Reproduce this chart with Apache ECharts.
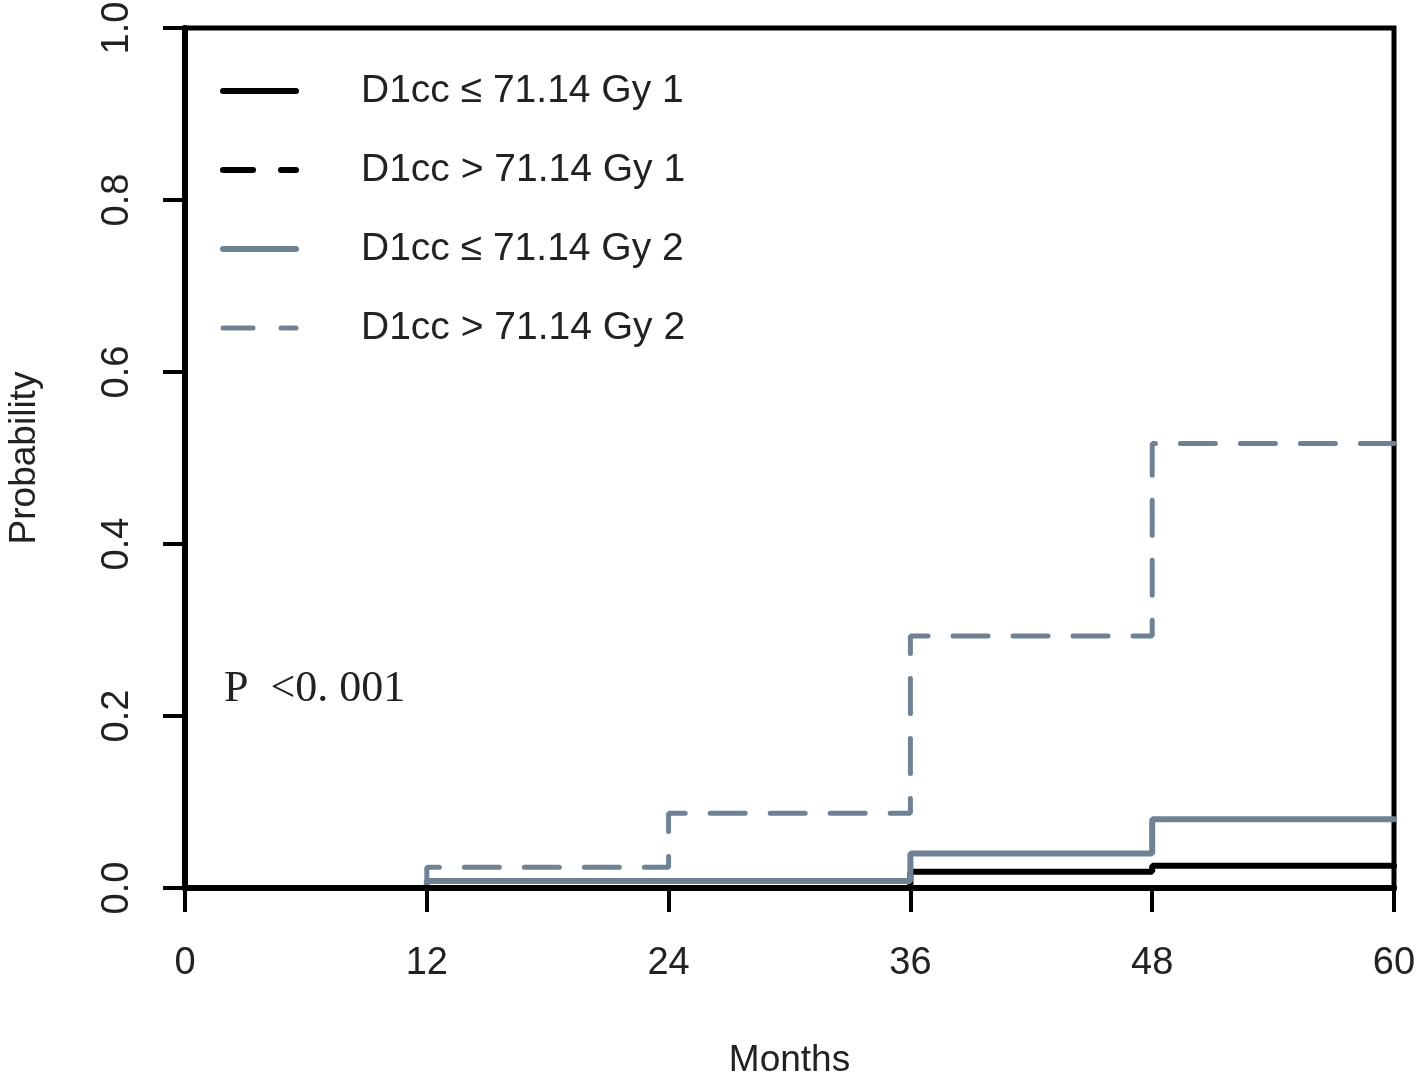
<!DOCTYPE html>
<html>
<head>
<meta charset="utf-8">
<script src="https://cdn.jsdelivr.net/npm/echarts@6/dist/echarts.min.js"></script>
<style>html,body{margin:0;padding:0;background:#fff;}#c{width:1418px;height:1076px;}</style>
</head>
<body>
<div id="c"></div>
<script>
const seriesNames = ['D1cc \u2264 71.14 Gy 1', 'D1cc > 71.14 Gy 1', 'D1cc \u2264 71.14 Gy 2', 'D1cc > 71.14 Gy 2'];
const months = [0, 12, 24, 36, 48, 60];
const lowGroup1 = [0, 0, 0, 0.019, 0.026, 0.026];
const highGroup1 = [0, 0, 0, 0, 0, 0];
const lowGroup2 = [0, 0.008, 0.008, 0.040, 0.080, 0.080];
const highGroup2 = [0, 0.024, 0.087, 0.293, 0.517, 0.517];
const yTicks = ['0.0', '0.2', '0.4', '0.6', '0.8', '1.0'];
const xTicks = ['0', '12', '24', '36', '48', '60'];
const pText = 'P \u00a0<0. 001';

const gray = '#6f8294';
const font = '"Liberation Sans", Arial, sans-serif';
function pairs(vals){ return months.map((m,i)=>[m, vals[i]]); }

const styles = [
  {color:'#000', type:'solid', width:6, legendType:'solid'},
  {color:'#000', type:[35,25], width:6, legendType:[30,28]},
  {color:gray, type:'solid', width:6, legendType:'solid'},
  {color:gray, type:[35,25], width:5, legendType:[30,28]}
];
const allVals = [lowGroup1, highGroup1, lowGroup2, highGroup2];

const chart = echarts.init(document.getElementById('c'));
chart.setOption({
  backgroundColor:'#fff',
  animation:false,
  grid:{left:185, right:24, top:28, bottom:188, show:true, borderColor:'#000', borderWidth:5, z:0, outerBoundsMode:'none', containLabel:false},
  legend:{
    orient:'vertical', left:220, top:71, padding:0,
    itemWidth:73, itemHeight:14, itemGap:39,
    data: seriesNames.map((n,i)=>({
      name:n,
      itemStyle:{opacity:0},
      lineStyle:{color:styles[i].color, type:styles[i].legendType, width:styles[i].width, cap:'round'}
    })),
    textStyle:{fontFamily:font, fontSize:39, color:'#222', lineHeight:40, padding:[0,0,0,60]}
  },
  xAxis:{
    type:'value', min:0, max:60, interval:12, z:5,
    name:'Months', nameLocation:'middle', nameGap:154,
    nameTextStyle:{fontFamily:font, fontSize:37, color:'#222'},
    axisLine:{show:true, lineStyle:{color:'#000', width:6}},
    axisTick:{show:true, length:24, lineStyle:{color:'#000', width:4}},
    axisLabel:{margin:57, fontFamily:font, fontSize:38, color:'#222',
      formatter:(v)=>xTicks[months.indexOf(v)] ?? ''},
    splitLine:{show:false}
  },
  yAxis:{
    type:'value', min:0, max:1, interval:0.2, z:5,
    name:'Probability', nameLocation:'middle', nameGap:142, nameRotate:90,
    nameTextStyle:{fontFamily:font, fontSize:37, color:'#222'},
    axisLine:{show:true, lineStyle:{color:'#000', width:6}},
    axisTick:{show:true, length:22, lineStyle:{color:'#000', width:4}},
    axisLabel:{margin:48, rotate:90, fontFamily:font, fontSize:38, color:'#222',
      formatter:(v)=>yTicks[Math.round(v*5)]},
    splitLine:{show:false}
  },
  series: seriesNames.map((n,i)=>({
    name:n, type:'line', step:'end', symbol:'none', z:2,
    data:pairs(allVals[i]),
    itemStyle:{color:styles[i].color},
    lineStyle:{color:styles[i].color, type:styles[i].type, width:styles[i].width, cap:'round'}
  })),
  graphic:[{
    type:'text', left:224, top:667,
    style:{text:pText, fontFamily:'"Liberation Serif", "Times New Roman", serif', fontSize:44, fill:'#222'}
  }]
});
</script>
</body>
</html>
